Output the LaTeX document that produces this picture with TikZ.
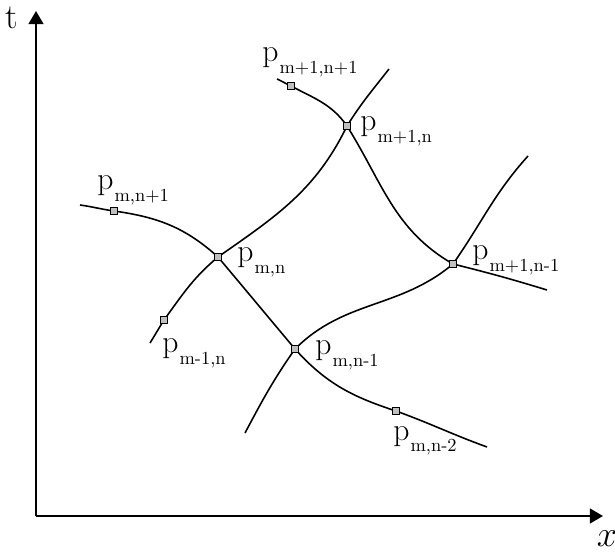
\documentclass[tikz,border=0pt]{standalone}
\usetikzlibrary{arrows.meta}

\newcommand{\plab}[1]{p\kern0.6pt\raisebox{-6.6pt}{\fontsize{10.5}{12}\selectfont #1}}

\begin{document}
\begin{tikzpicture}[
  x=0.02cm, y=-0.02cm,
  axis/.style={line width=1.1pt, -{Triangle[length=7.5pt,width=8.5pt]}},
  curve/.style={line width=0.9pt},
  gpt/.style={draw, rectangle, line width=0.6pt, fill=gray!50, minimum size=0.13cm, inner sep=0pt},
  lab/.style={anchor=base west, inner sep=0pt, font=\fontsize{18}{20}\selectfont},
]
\useasboundingbox (0,0) rectangle (615,553);

% axes
\coordinate (O) at (36,516);
\coordinate (T) at (36,11);
\coordinate (X) at (603,516);
\draw[axis] (O) -- (T);
\draw[axis] (O) -- (X);
\node[font=\fontsize{20}{22}\selectfont, inner sep=0pt] (tlab) at (12,18) {t};
\node[font=\fontsize{20}{22}\selectfont, inner sep=0pt] (xlab) at (607,539) {$x$};

% grid points
\coordinate (pmp1np1) at (291,86);
\coordinate (pmp1n)   at (347,126);
\coordinate (pmnp1)   at (114,211);
\coordinate (pmn)     at (218,257);
\coordinate (pmp1nm1) at (453,264);
\coordinate (pm1n)    at (164,320);
\coordinate (pmnm1)   at (295,349);
\coordinate (pmnm2)   at (396,411);

% lines of constant m
\draw[curve] (80,205) to[out=-8,in=172] (pmnp1) to[out=-8,in=138] (pmn)
  to[out=-50,in=130] (pmnm1) to[out=-48,in=162] (pmnm2) to[out=-20,in=160] (487,447);
\draw[curve] (277,79) to[out=-25,in=155] (pmp1np1) to[out=-28,in=125] (pmp1n)
  to[out=-58,in=150] (pmp1nm1) to[out=-14,in=163] (547,290);
% lines of constant n
\draw[curve] (150,343) to[out=58,in=-122] (pm1n) to[out=54,in=-140] (pmn)
  to[out=35,in=-116] (pmp1n) to[out=58,in=-128] (389,69);
\draw[curve] (245,433) to[out=62,in=-125] (pmnm1) to[out=45,in=220] (pmp1nm1)
  to[out=55,in=-132] (528,156);

\foreach \p in {pmp1np1,pmp1n,pmnp1,pmn,pmp1nm1,pm1n,pmnm1,pmnm2}
  \node[gpt] (sq-\p) at (\p) {};

% labels
\node[lab] (l-mp1np1) at (262,62)  {\plab{m+1,n+1}};
\node[lab] (l-mp1n)   at (360,131) {\plab{m+1,n}};
\node[lab] (l-mp1nm1) at (472,260) {\plab{m+1,n-1}};
\node[lab] (l-mnp1)   at (97,190)  {\plab{m,n+1}};
\node[lab] (l-mn)     at (237,262) {\plab{m,n}};
\node[lab] (l-m1n)    at (162,353) {\plab{m-1,n}};
\node[lab] (l-mnm1)   at (315,355) {\plab{m,n-1}};
\node[lab] (l-mnm2)   at (393,440) {\plab{m,n-2}};
\end{tikzpicture}
\end{document}
